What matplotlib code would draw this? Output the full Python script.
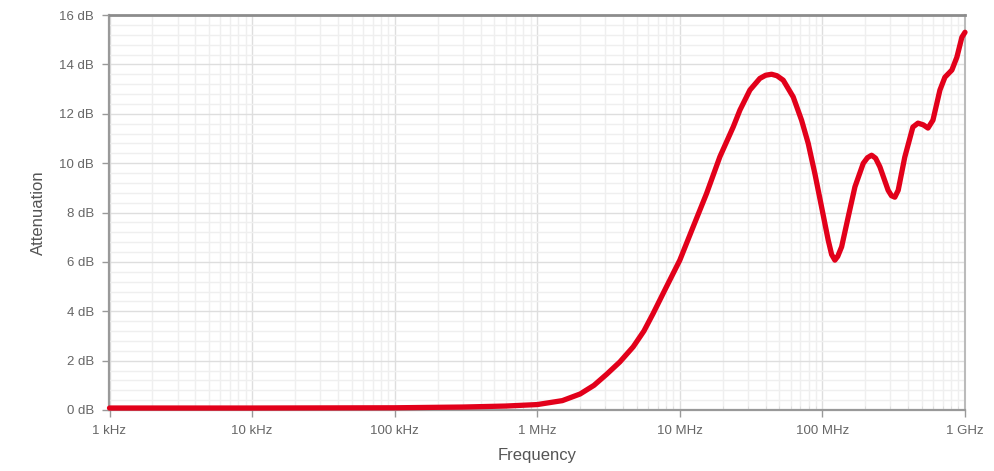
import matplotlib
matplotlib.use("Agg")
import matplotlib.pyplot as plt
from matplotlib.ticker import FixedLocator, FixedFormatter, LogLocator, MultipleLocator, NullFormatter

plt.rcParams['font.family'] = ['Liberation Sans', 'DejaVu Sans']

# Filter attenuation vs. frequency
freq_hz = [1e3, 1e4, 1e5, 3e5, 6e5, 1e6, 1.5e6, 2e6, 2.5e6, 3.07e6, 3.8e6, 4.71e6,
           5.6e6, 6.5e6, 8.07e6, 10e6, 12.4e6, 15.4e6, 19.1e6, 23.7e6, 26.4e6,
           31e6, 36.4e6, 40e6, 44e6, 48e6, 53.1e6, 62.4e6, 71.4e6, 79.5e6, 88.5e6,
           98.6e6, 109.8e6, 116e6, 122.3e6, 128e6, 136.4e6, 151.8e6, 169.1e6,
           193.3e6, 207e6, 221.3e6, 236e6, 253e6, 289e6, 305e6, 322e6, 340e6,
           378e6, 431e6, 468e6, 510e6, 550e6, 596e6, 667e6, 723e6, 809e6, 877e6,
           951e6, 1e9]
atten_db = [0.08, 0.08, 0.09, 0.12, 0.16, 0.22, 0.38, 0.65, 1.0, 1.45, 1.95, 2.56,
            3.2, 3.91, 5.0, 6.07, 7.42, 8.77, 10.26, 11.47, 12.15,
            12.96, 13.43, 13.56, 13.6, 13.54, 13.36, 12.68, 11.74, 10.8, 9.58,
            8.23, 6.88, 6.3, 6.07, 6.22, 6.61, 7.83, 9.04,
            9.99, 10.22, 10.32, 10.2, 9.85, 8.9, 8.68, 8.62, 8.9,
            10.24, 11.46, 11.62, 11.55, 11.42, 11.74, 12.96, 13.48, 13.77, 14.29,
            15.1, 15.3]

x_ticks = [1e3, 1e4, 1e5, 1e6, 1e7, 1e8, 1e9]
x_tick_labels = ["1 kHz", "10 kHz", "100 kHz", "1 MHz", "10 MHz", "100 MHz", "1 GHz"]
y_ticks = [0, 2, 4, 6, 8, 10, 12, 14, 16]
y_tick_labels = [f"{v} dB" for v in y_ticks]

fig = plt.figure(figsize=(9.95, 4.71), dpi=100)
ax = fig.add_axes([109.5 / 995, 61 / 471, (965 - 109.5) / 995, (410 - 15) / 471])

ax.set_xscale("log")
ax.set_xlim(1e3, 1e9)
ax.set_ylim(0, 16)

ax.plot(freq_hz, atten_db, color="#e2001a", lw=3.8, solid_joinstyle="round",
        solid_capstyle="round", zorder=3, clip_on=False)

ax.xaxis.set_major_locator(FixedLocator(x_ticks))
ax.xaxis.set_major_formatter(FixedFormatter(x_tick_labels))
ax.xaxis.set_minor_locator(LogLocator(base=10, subs=range(2, 10), numticks=20))
ax.xaxis.set_minor_formatter(NullFormatter())
ax.yaxis.set_major_locator(FixedLocator(y_ticks))
ax.yaxis.set_major_formatter(FixedFormatter(y_tick_labels))
ax.yaxis.set_minor_locator(MultipleLocator(0.4))

ax.grid(which="major", color="#dedede", lw=1.0, zorder=0)
ax.grid(which="minor", color="#efefef", lw=1.0, zorder=0)
ax.set_axisbelow(True)

ax.tick_params(axis="both", which="major", direction="out", length=5, width=1,
               color="#999999", labelcolor="#666666", labelsize=9.5, pad=6)
ax.tick_params(axis="y", which="minor", length=0)
ax.tick_params(axis="x", which="minor", direction="in", length=3, color="#dddddd")

for side in ("left", "bottom"):
    ax.spines[side].set_color("#999999")
    ax.spines[side].set_linewidth(1.6)
ax.spines["top"].set_color("#8c8c8c")
ax.spines["top"].set_linewidth(2.0)
ax.spines["right"].set_color("#bbbbbb")
ax.spines["right"].set_linewidth(1.5)
ax.spines["right"].set_linestyle((0, (2, 1)))

ax.set_xlabel("Frequency", color="#555555", fontsize=12, labelpad=8)
ax.set_ylabel("Attenuation", color="#555555", fontsize=12, labelpad=10)

fig.savefig("out.png", dpi=100, facecolor="white")
